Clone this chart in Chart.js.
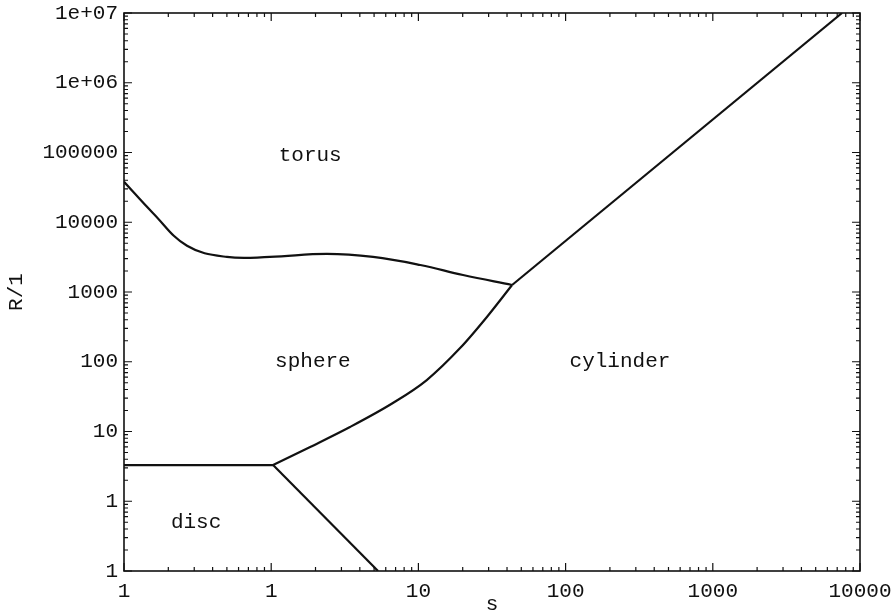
<!DOCTYPE html>
<html>
<head>
<meta charset="utf-8">
<script src="https://cdn.jsdelivr.net/npm/chart.js@4/dist/chart.umd.min.js"></script>
<style>
  html, body { margin: 0; padding: 0; background: #fff; }
  #wrap { width: 892px; height: 614px; }
</style>
</head>
<body>
<div id="wrap"><canvas id="c"></canvas></div>
<script>
const xTicks = [0.1, 1, 10, 100, 1000, 10000];
const xTickLabels = ['1', '1', '10', '100', '1000', '10000'];
const yTicks = [0.1, 1, 10, 100, 1000, 1e4, 1e5, 1e6, 1e7];
const yTickLabels = ['1', '1', '10', '100', '1000', '10000', '100000', '1e+06', '1e+07'];

// torus / sphere boundary
const torusS = [0.1, 0.157, 0.268, 0.5, 0.98, 2.39, 4.92, 10.3, 20.1, 43.3];
const torusR = [38000, 13600, 4600, 3180, 3180, 3510, 3180, 2440, 1750, 1260];
// torus / cylinder boundary
const tcS = [43.3, 7550];
const tcR = [1260, 1e7];
// sphere / cylinder boundary
const scS = [1.03, 1.84, 3.43, 6.71, 11.4, 19.2, 29.2, 43.3];
const scR = [3.3, 6.0, 11.6, 25.6, 54.7, 157, 439, 1260];
// sphere / disc boundary
const sdS = [0.1, 1.03];
const sdR = [3.3, 3.3];
// disc / cylinder boundary
const dcS = [1.03, 5.32];
const dcR = [3.3, 0.1];

const regionNames = ['torus', 'sphere', 'cylinder', 'disc'];
const regionS = [1.84, 1.92, 234, 0.309];
const regionR = [91000, 100, 100, 0.505];

const ink = '#111';
const fontFamily = '"Liberation Mono", "DejaVu Sans Mono", monospace';

function curve(xs, ys, mode) {
  return {
    data: xs.map((x, i) => ({ x, y: ys[i] })),
    showLine: true,
    borderColor: ink,
    borderWidth: 2.2,
    pointRadius: 0,
    fill: false,
    tension: mode === 'spline' ? 0.4 : 0,
    cubicInterpolationMode: mode === 'monotone' ? 'monotone' : 'default',
  };
}

function minorOf(decades) {
  const out = [];
  decades.slice(0, -1).forEach(d => { for (let k = 2; k < 10; k++) out.push(d * k); });
  return out;
}

// box, inward ticks on all four sides, region names
const frame = {
  id: 'frame',
  afterDatasetsDraw(chart) {
    const { ctx, chartArea: a, scales: { x, y } } = chart;
    ctx.save();
    ctx.strokeStyle = ink;
    ctx.lineWidth = 1.6;
    ctx.strokeRect(a.left, a.top, a.right - a.left, a.bottom - a.top);

    ctx.lineWidth = 1.2;
    ctx.beginPath();
    const xt = (v, len) => {
      const px = x.getPixelForValue(v);
      ctx.moveTo(px, a.bottom); ctx.lineTo(px, a.bottom - len);
      ctx.moveTo(px, a.top); ctx.lineTo(px, a.top + len);
    };
    const yt = (v, len) => {
      const py = y.getPixelForValue(v);
      ctx.moveTo(a.left, py); ctx.lineTo(a.left + len, py);
      ctx.moveTo(a.right, py); ctx.lineTo(a.right - len, py);
    };
    xTicks.forEach(v => xt(v, 8));
    minorOf(xTicks).forEach(v => xt(v, 4));
    yTicks.forEach(v => yt(v, 8));
    minorOf(yTicks).forEach(v => yt(v, 4));
    ctx.stroke();

    ctx.fillStyle = ink;
    ctx.font = '21px ' + fontFamily;
    ctx.textAlign = 'center';
    ctx.textBaseline = 'middle';
    regionNames.forEach((n, i) => {
      ctx.fillText(n, x.getPixelForValue(regionS[i]), y.getPixelForValue(regionR[i]));
    });
    ctx.restore();
  }
};

new Chart(document.getElementById('c'), {
  type: 'scatter',
  data: {
    datasets: [
      curve(torusS, torusR, 'spline'),
      curve(tcS, tcR, 'straight'),
      curve(scS, scR, 'monotone'),
      curve(sdS, sdR, 'straight'),
      curve(dcS, dcR, 'straight'),
    ]
  },
  options: {
    responsive: true,
    maintainAspectRatio: false,
    animation: false,
    layout: { padding: { top: 13, right: 32, left: 0, bottom: 0 } },
    plugins: { legend: { display: false }, tooltip: { enabled: false } },
    scales: {
      x: {
        type: 'logarithmic',
        position: 'bottom',
        min: 0.1,
        max: 10000,
        afterBuildTicks: s => { s.ticks = xTicks.map(v => ({ value: v })); },
        afterFit: s => { s.height = 43; s.paddingLeft = 0; s.paddingRight = 0; },
        grid: { display: false, drawTicks: false },
        border: { display: false },
        ticks: {
          autoSkip: false, maxRotation: 0, padding: 8, color: ink,
          font: { family: fontFamily, size: 21 },
          callback: (v, i) => xTickLabels[i],
        },
        title: { display: true, text: 's', color: ink, padding: 0, font: { family: fontFamily, size: 21, lineHeight: 0.9 } },
      },
      y: {
        type: 'logarithmic',
        position: 'left',
        min: 0.1,
        max: 1e7,
        afterBuildTicks: s => { s.ticks = yTicks.map(v => ({ value: v })); },
        afterFit: s => { s.width = 124; s.paddingTop = 0; s.paddingBottom = 0; },
        grid: { display: false, drawTicks: false },
        border: { display: false },
        ticks: {
          autoSkip: false, padding: 6, color: ink,
          font: { family: fontFamily, size: 21 },
          callback: (v, i) => yTickLabels[i],
        },
        title: { display: true, text: 'R/1', color: ink, padding: { top: 4, bottom: 0 }, font: { family: fontFamily, size: 21 } },
      },
    }
  },
  plugins: [frame]
});
</script>
</body>
</html>
